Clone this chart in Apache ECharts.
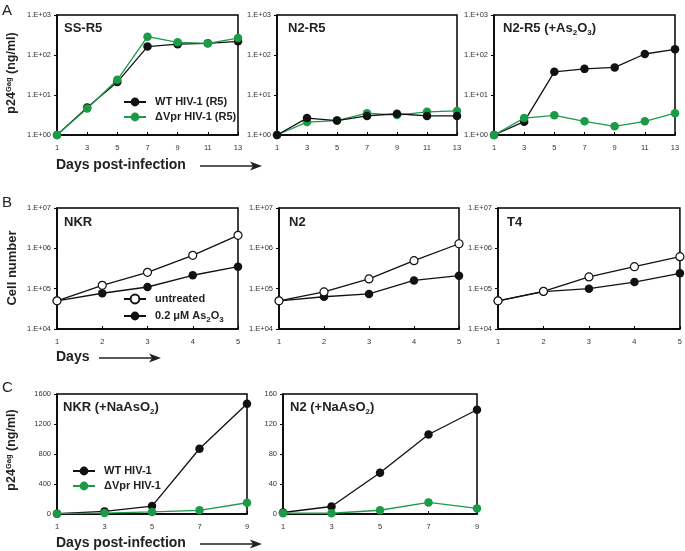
<!DOCTYPE html>
<html><head><meta charset="utf-8">
<script src="https://cdn.jsdelivr.net/npm/echarts@6/dist/echarts.min.js"></script>
<style>html,body{margin:0;padding:0;background:#fff}#c{width:685px;height:551px}</style>
</head><body><div id="c"></div>
<script>
// ---------- data ----------
const daysA = ['1','3','5','7','9','11','13'];
const daysB = ['1','2','3','4','5'];
const daysC = ['1','3','5','7','9'];

const ticksA = ['1.E+00','1.E+01','1.E+02','1.E+03'];
const ticksB = ['1.E+04','1.E+05','1.E+06','1.E+07'];

// Panel A (p24 ng/ml, log)
const ssR5_WT  = [1, 4.9, 21, 162, 186, 196, 220];
const ssR5_dV  = [1, 4.6, 24, 287, 207, 196, 265];
const n2R5_WT  = [1, 2.65, 2.3, 3.0, 3.4, 3.0, 3.0];
const n2R5_dV  = [1, 2.1, 2.3, 3.5, 3.15, 3.8, 4.0];
const n2As_WT  = [1, 2.15, 38, 45, 49, 106, 139];
const n2As_dV  = [1, 2.65, 3.1, 2.2, 1.65, 2.2, 3.5];

// Panel B (cell number, log)
const nkr_untr = [5.0e4, 1.21e5, 2.54e5, 6.7e5, 2.1e6];
const nkr_as   = [5.0e4, 7.7e4, 1.1e5, 2.15e5, 3.5e5];
const n2_untr  = [5.0e4, 8.3e4, 1.74e5, 4.95e5, 1.3e6];
const n2_as    = [5.0e4, 6.3e4, 7.4e4, 1.6e5, 2.1e5];
const t4_untr  = [5.0e4, 8.6e4, 1.95e5, 3.5e5, 6.2e5];
const t4_as    = [5.0e4, 8.4e4, 1.0e5, 1.46e5, 2.4e5];

// Panel C (p24 ng/ml, linear)
const nkrNa_WT = [5, 35, 106, 870, 1470];
const nkrNa_dV = [5, 13, 27, 49, 150];
const n2Na_WT  = [2, 10, 55, 106, 139];
const n2Na_dV  = [1, 1, 5, 15.5, 7.5];

// ---------- style ----------
const FONT = '"Liberation Sans", Arial, Helvetica, sans-serif';
const GREEN = '#1b9a48';
const BLACK = '#111';

const gridBoxes = [
  {left:57,  top:15,  width:181, height:120},
  {left:277, top:15,  width:180, height:120},
  {left:494, top:15,  width:181, height:120},
  {left:57,  top:208, width:181, height:121},
  {left:279, top:208, width:180, height:121},
  {left:498, top:208, width:183, height:121},
  {left:57,  top:394, width:190, height:120},
  {left:283, top:394, width:194, height:120}
];
const xCats = [daysA, daysA, daysA, daysB, daysB, daysB, daysC, daysC];

const grid = gridBoxes.map(g => Object.assign({show:true, borderColor:'#000', borderWidth:1.5, backgroundColor:'#fff'}, g));

const xAxis = xCats.map((cats, i) => ({
  type:'category', gridIndex:i, data:cats, boundaryGap:false,
  axisLine:{lineStyle:{color:'#000', width:1.5}},
  axisTick:{inside:true, length:3, alignWithLabel:true, interval:0, lineStyle:{color:'#000', width:1}},
  axisLabel:{fontSize:7.5, color:'#333', margin:9, interval:0, fontFamily:FONT},
  splitLine:{show:false}
}));

function logAxis(i, min, max, ticks, base) {
  return {
    type:'log', logBase:10, gridIndex:i, min:min, max:max,
    axisLine:{show:true, lineStyle:{color:'#000', width:1.5}},
    axisTick:{show:true, length:3, lineStyle:{color:'#000'}},
    minorTick:{show:false},
    splitLine:{show:false},
    axisLabel:{fontSize:7.5, color:'#333', margin:6, fontFamily:FONT,
      formatter: v => ticks[Math.round(Math.log10(v)) - base]}
  };
}
function linAxis(i, max, interval) {
  return {
    type:'value', gridIndex:i, min:0, max:max, interval:interval,
    axisLine:{show:true, lineStyle:{color:'#000', width:1.5}},
    axisTick:{show:true, length:3, lineStyle:{color:'#000'}},
    splitLine:{show:false},
    axisLabel:{fontSize:7.5, color:'#333', margin:6, fontFamily:FONT, formatter: v => String(v)}
  };
}
const yAxis = [
  logAxis(0, 1, 1000, ticksA, 0),
  logAxis(1, 1, 1000, ticksA, 0),
  logAxis(2, 1, 1000, ticksA, 0),
  logAxis(3, 1e4, 1e7, ticksB, 4),
  logAxis(4, 1e4, 1e7, ticksB, 4),
  logAxis(5, 1e4, 1e7, ticksB, 4),
  linAxis(6, 1600, 400),
  linAxis(7, 160, 40)
];

function ser(name, data, idx, color, open, z) {
  return {
    type:'line', name:name, data:data, xAxisIndex:idx, yAxisIndex:idx,
    symbol:'circle', symbolSize: open ? 8 : 8.5, z: z,
    lineStyle:{color: open ? BLACK : color, width:1.3},
    itemStyle: open ? {color:'#fff', borderColor:BLACK, borderWidth:1.2, opacity:1}
                    : {color:color, borderColor:color, borderWidth:0, opacity:1},
    emphasis:{disabled:true}, animation:false
  };
}
const WT_A = 'WT HIV-1 (R5)', DV_A = '\u0394Vpr HIV-1 (R5)';
const UN_B = 'untreated', AS_B = '0.2 \u03bcM As2O3';
const WT_C = 'WT HIV-1', DV_C = '\u0394Vpr HIV-1';

const series = [
  ser(WT_A, ssR5_WT, 0, BLACK, false, 2),
  ser(DV_A, ssR5_dV, 0, GREEN, false, 3),
  ser(DV_A, n2R5_dV, 1, GREEN, false, 2),
  ser(WT_A, n2R5_WT, 1, BLACK, false, 3),
  ser(WT_A, n2As_WT, 2, BLACK, false, 2),
  ser(DV_A, n2As_dV, 2, GREEN, false, 3),
  ser(AS_B, nkr_as, 3, BLACK, false, 2),
  ser(UN_B, nkr_untr, 3, BLACK, true, 3),
  ser(AS_B, n2_as, 4, BLACK, false, 2),
  ser(UN_B, n2_untr, 4, BLACK, true, 3),
  ser(AS_B, t4_as, 5, BLACK, false, 2),
  ser(UN_B, t4_untr, 5, BLACK, true, 3),
  ser(WT_C, nkrNa_WT, 6, BLACK, false, 2),
  ser(DV_C, nkrNa_dV, 6, GREEN, false, 3),
  ser(WT_C, n2Na_WT, 7, BLACK, false, 2),
  ser(DV_C, n2Na_dV, 7, GREEN, false, 3)
];

const legText = {fontSize:11, fontWeight:'bold', fontFamily:FONT, color:'#222', padding:[0,0,0,4], lineHeight:14};
const subRich = {s:{fontSize:8, fontWeight:'bold', fontFamily:FONT, color:'#222', padding:[8,0,0,0]}};
const legend = [
  {data:[WT_A, DV_A], left:123, top:95, orient:'vertical', itemWidth:22, itemHeight:11, itemGap:1, padding:0,
   textStyle:legText, selectedMode:false},
  {data:[UN_B, AS_B], left:123, top:291, orient:'vertical', itemWidth:22, itemHeight:11, itemGap:1, padding:0,
   textStyle:Object.assign({}, legText, {lineHeight:16, rich:subRich}), selectedMode:false,
   formatter: n => n === AS_B ? '0.2 \u03bcM As{s|2}O{s|3}' : n},
  {data:[WT_C, DV_C], left:72, top:464, orient:'vertical', itemWidth:22, itemHeight:11, itemGap:1, padding:0,
   textStyle:legText, selectedMode:false}
];

// ---------- graphic text & arrows ----------
const titleRich = {s:{fontSize:8, fontWeight:'bold', fontFamily:FONT, fill:'#222', padding:[9,0,0,0]}};
function ptitle(x, y, text) {
  return {type:'text', x:x, y:y, z:50, silent:true,
    style:{text:text, font:'bold 13px ' + FONT, fill:'#222', textAlign:'left', textVerticalAlign:'middle', rich:titleRich}};
}
function letter(x, y, t) {
  return {type:'text', x:x, y:y, silent:true,
    style:{text:t, font:'15px ' + FONT, fill:'#222', textAlign:'left', textVerticalAlign:'middle'}};
}
const supRich = {
  b:{fontSize:12.5, fontWeight:'bold', fontFamily:FONT, fill:'#222', lineHeight:15},
  u:{fontSize:7.5, fontWeight:'bold', fontFamily:FONT, fill:'#222', padding:[0,0,7,0]}
};
function ytitle(x, y, text, size) {
  return {type:'text', x:x, y:y, rotation:Math.PI/2, silent:true,
    style:{text:text, font:'bold ' + size + 'px ' + FONT, fill:'#222', textAlign:'center', textVerticalAlign:'middle', rich:supRich}};
}
function xtitle(x, y, t) {
  return {type:'text', x:x, y:y, silent:true,
    style:{text:t, font:'bold 14px ' + FONT, fill:'#222', textAlign:'left', textVerticalAlign:'middle'}};
}
function arrow(x1, x2, y) {
  return [
    {type:'line', silent:true, shape:{x1:x1, y1:y, x2:x2-4, y2:y}, style:{stroke:'#222', lineWidth:1.5}},
    {type:'polygon', silent:true, shape:{points:[[x2-12,y-4.5],[x2,y],[x2-12,y+4.5],[x2-9,y]]}, style:{fill:'#222'}}
  ];
}

const graphic = [
  letter(2, 11, 'A'), letter(2, 203, 'B'), letter(2, 388, 'C'),
  ytitle(12, 73, '{b|p24}{u|Gag}{b| (ng/ml)}', 12.5),
  {type:'text', x:12, y:268, rotation:Math.PI/2, silent:true,
   style:{text:'Cell number', font:'bold 13px ' + FONT, fill:'#222', textAlign:'center', textVerticalAlign:'middle'}},
  ytitle(12, 450, '{b|p24}{u|Gag}{b| (ng/ml)}', 12.5),
  xtitle(56, 165, 'Days post-infection'),
  xtitle(56, 357, 'Days'),
  xtitle(56, 543, 'Days post-infection'),
  ...arrow(200, 262, 166),
  ...arrow(99, 161, 358),
  ...arrow(200, 262, 544),
  ptitle(64, 28, 'SS-R5'),
  ptitle(288, 28, 'N2-R5'),
  ptitle(503, 28, 'N2-R5 (+As{s|2}O{s|3})'),
  ptitle(64, 222, 'NKR'),
  ptitle(289, 222, 'N2'),
  ptitle(507, 222, 'T4'),
  ptitle(63, 407, 'NKR (+NaAsO{s|2})'),
  ptitle(290, 407, 'N2 (+NaAsO{s|2})')
];

const chart = echarts.init(document.getElementById('c'), null, {renderer:'canvas'});
chart.setOption({
  animation:false,
  backgroundColor:'#fff',
  grid:grid, xAxis:xAxis, yAxis:yAxis, series:series, legend:legend, graphic:graphic
});
</script>
</body></html>
